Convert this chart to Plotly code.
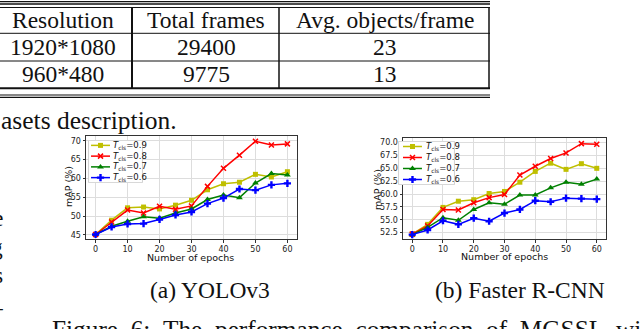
import plotly.graph_objects as go

W, H = 640, 329

# table content
table_header = ["Resolution", "Total frames", "Avg. objects/frame"]
table_rows = [["1920*1080", "29400", "23"],
              ["960*480", "9775", "13"]]

# curves: mAP (%) vs number of epochs
epochs = [0, 5, 10, 15, 20, 25, 30, 35, 40, 45, 50, 55, 60]
thresholds = ["0.9", "0.8", "0.7", "0.6"]

yolo_09 = [45.1, 48.9, 52.2, 52.4, 51.9, 52.9, 54.2, 57.0, 58.6, 59.0, 61.1, 60.4, 61.8]
yolo_08 = [45.1, 48.4, 51.6, 50.8, 52.6, 51.8, 52.7, 57.9, 62.7, 66.2, 69.9, 68.9, 69.2]
yolo_07 = [45.1, 47.3, 48.6, 49.8, 49.4, 50.8, 51.9, 54.4, 55.6, 54.9, 58.8, 61.3, 60.9]
yolo_06 = [45.1, 47.1, 47.9, 48.0, 49.1, 50.3, 51.1, 53.3, 54.8, 57.2, 56.9, 58.3, 58.7]

frcnn_09 = [52.2, 54.1, 57.4, 58.6, 58.9, 60.1, 60.5, 62.3, 64.4, 66.0, 64.8, 65.9, 65.0]
frcnn_08 = [52.2, 53.8, 57.0, 56.9, 58.3, 59.3, 59.9, 63.7, 65.4, 66.9, 68.0, 69.8, 69.7]
frcnn_07 = [52.1, 53.5, 55.4, 54.9, 57.0, 58.3, 58.0, 59.8, 59.8, 61.2, 62.3, 61.9, 62.9]
frcnn_06 = [52.1, 53.0, 54.8, 54.1, 55.3, 54.7, 56.3, 57.0, 58.7, 58.5, 59.2, 59.1, 59.0]

colors = ["#bfbf00", "#ff0000", "#008000", "#0000ff"]
symbols = ["square", "x-thin", "triangle-up", "cross"]
sizes = [5, 5, 6, 6]

SERIF = "Liberation Serif"
SANS = "DejaVu Sans"


def px(x):
    return x / W


def py(y):
    return 1 - y / H


def marker_style(i):
    if symbols[i] == "x-thin":
        return dict(symbol="x-thin", size=sizes[i], line=dict(width=1.5, color=colors[i]))
    return dict(symbol=symbols[i], size=sizes[i], color=colors[i], line=dict(width=0))


fig = go.Figure()

# main curves
for axis, series in [("", [yolo_09, yolo_08, yolo_07, yolo_06]),
                     ("2", [frcnn_09, frcnn_08, frcnn_07, frcnn_06])]:
    for i, vals in enumerate(series):
        fig.add_trace(go.Scatter(x=epochs, y=vals, mode="lines+markers",
                                 line=dict(color=colors[i], width=1.5),
                                 marker=marker_style(i),
                                 xaxis="x" + axis, yaxis="y" + axis))

# hand-made legends (one small hidden axis each)
legend_boxes = {"3": dict(sw=(0.055, 0.40), tx=0.42),
                "4": dict(sw=(0.088, 0.42), tx=0.46)}
shapes = []
annotations = []
for ax, b in legend_boxes.items():
    # white frame behind the entries
    fig.add_trace(go.Scatter(x=[0.01, 0.99, 0.99, 0.01, 0.01], y=[-0.47, -0.47, 3.47, 3.47, -0.47],
                             mode="lines", fill="toself", fillcolor="white",
                             line=dict(color="#d0d0d0", width=1),
                             xaxis="x" + ax, yaxis="y" + ax))
    for i, t in enumerate(thresholds):
        fig.add_trace(go.Scatter(x=list(b["sw"]), y=[i, i], mode="lines",
                                 line=dict(color=colors[i], width=1.5),
                                 xaxis="x" + ax, yaxis="y" + ax))
        fig.add_trace(go.Scatter(x=[sum(b["sw"]) / 2], y=[i], mode="markers",
                                 marker=marker_style(i),
                                 xaxis="x" + ax, yaxis="y" + ax))
        annotations.append(dict(x=b["tx"], y=i, xref="x" + ax, yref="y" + ax,
                                text="<i>T</i><sub>cls</sub>=" + t, showarrow=False,
                                xanchor="left", yanchor="middle",
                                font=dict(family=SANS, size=8.5, color="#111")))

# table lines
for y, w in [(1.7, 1.3), (4.0, 1.3), (7.5, 1.2), (33.3, 1), (61, 1), (88.3, 2), (95, 1.2), (97.4, 1.2)]:
    shapes.append(dict(type="line", xref="paper", yref="paper", x0=px(0), x1=px(490),
                       y0=py(y), y1=py(y), line=dict(color="#111", width=w)))
for x, w in [(132, 2), (279, 1.5), (489, 1.5)]:
    shapes.append(dict(type="line", xref="paper", yref="paper", x0=px(x), x1=px(x),
                       y0=py(7.5), y1=py(88.3), line=dict(color="#111", width=w)))

col_centers = [62.5, 206, 384.5]
row_centers = [20, 47, 74]
for r, row in enumerate([table_header] + table_rows):
    for c, txt in enumerate(row):
        annotations.append(dict(x=px(col_centers[c]), y=py(row_centers[r]), xref="paper", yref="paper",
                                text=txt, showarrow=False, xanchor="center", yanchor="middle",
                                font=dict(family=SERIF, size=23.5, color="#111")))


def text(x, y, s, size=23.5, xanchor="left", yanchor="middle", family=SERIF, angle=0):
    annotations.append(dict(x=px(x), y=py(y), xref="paper", yref="paper", text=s,
                            showarrow=False, xanchor=xanchor, yanchor=yanchor, textangle=angle,
                            font=dict(family=family, size=size, color="#111")))


text(-1, 120, "asets description.", size=25.5)
text(210, 290, "(a) YOLOv3", xanchor="center")
text(520, 290, "(b) Faster R-CNN", xanchor="center")
# justified line of the figure caption, cut by the bottom edge
caption_words = ["Figure", "6:", "The", "performance", "comparison", "of", "MGSSL", "with"]
text(50, 313, " \u00a0".join(caption_words), yanchor="top", size=25.3)
# clipped letters from the neighbouring column
for y, s in [(218, "e"), (247, "g"), (275, "s"), (307, "–")]:
    text(5, y, s, xanchor="right")

# axis titles
text(190.5, 257, "Number of epochs", size=9.5, xanchor="center", family=SANS)
text(504, 256, "Number of epochs", size=9.5, xanchor="center", family=SANS)
text(68, 187, "mAP (%)", size=9.5, xanchor="center", family=SANS, angle=-90)
text(377, 190, "mAP (%)", size=9.5, xanchor="center", family=SANS, angle=-90)

axis_common = dict(showgrid=True, gridcolor="#dddddd", gridwidth=1, zeroline=False,
                   showline=True, mirror=True, linecolor="#333", linewidth=1,
                   ticks="outside", ticklen=2.5, tickcolor="#333", tickwidth=1,
                   tickfont=dict(family=SANS, size=8, color="#222"))
hidden = dict(visible=False, showgrid=False, zeroline=False, fixedrange=True)

fig.update_layout(
    width=W, height=H,
    margin=dict(l=0, r=0, t=0, b=0),
    paper_bgcolor="white", plot_bgcolor="white",
    showlegend=False,
    xaxis=dict(domain=[px(86), px(297)], range=[-3, 63], dtick=10, anchor="y", **axis_common),
    yaxis=dict(domain=[py(239), py(136)], range=[43.9, 71.3], dtick=5, anchor="x", **axis_common),
    xaxis2=dict(domain=[px(403), px(606)], range=[-3, 63], dtick=10, anchor="y2", **axis_common),
    yaxis2=dict(domain=[py(239), py(138)], range=[51.25, 70.9], dtick=2.5, tickformat=".1f",
                anchor="x2", **axis_common),
    xaxis3=dict(domain=[px(88), px(143)], range=[0, 1], anchor="y3", **hidden),
    yaxis3=dict(domain=[py(183), py(140)], range=[3.5, -0.5], anchor="x3", **hidden),
    xaxis4=dict(domain=[px(398), px(455)], range=[0, 1], anchor="y4", **hidden),
    yaxis4=dict(domain=[py(185), py(141)], range=[3.5, -0.5], anchor="x4", **hidden),
    shapes=shapes,
    annotations=annotations,
)

fig.write_html("out.html", config={"displayModeBar": False},
               post_script="document.body.style.margin='0';")
